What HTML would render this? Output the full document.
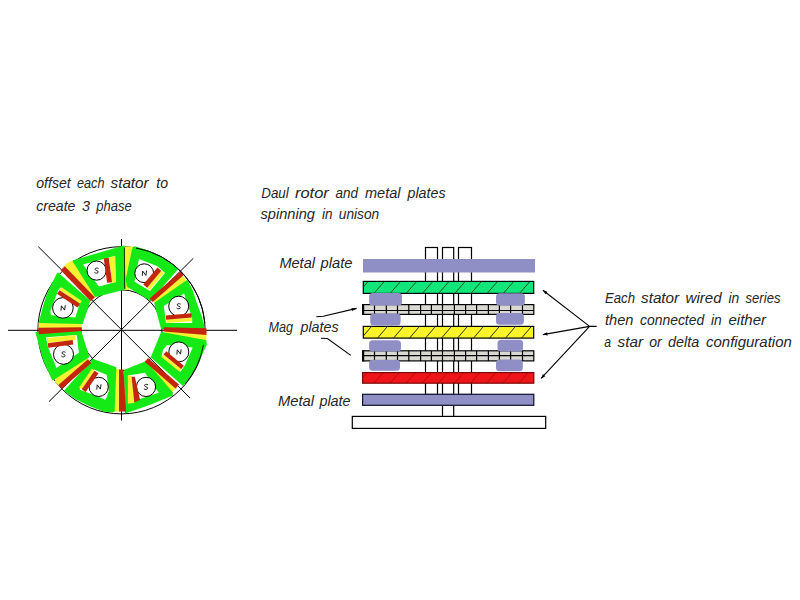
<!DOCTYPE html>
<html><head><meta charset="utf-8"><title>Dual rotor diagram</title>
<style>
html,body{margin:0;padding:0;background:#fff;}
body{width:800px;height:600px;overflow:hidden;font-family:"Liberation Sans",sans-serif;}
svg{display:block;font-family:"Liberation Sans",sans-serif;}
</style></head><body>
<svg width="800" height="600" viewBox="0 0 800 600">
<defs><filter id="soft" x="0" y="0" width="260" height="440" filterUnits="userSpaceOnUse"><feGaussianBlur stdDeviation="0.4"/></filter></defs>
<rect width="800" height="600" fill="#fff"/>
<line x1="8.0" y1="330.3" x2="237.0" y2="330.3" stroke="#000" stroke-width="1" stroke-linecap="butt"/>
<line x1="121.5" y1="239.0" x2="121.5" y2="420.5" stroke="#000" stroke-width="1" stroke-linecap="butt"/>
<line x1="38.3" y1="246.7" x2="190.0" y2="398.0" stroke="#000" stroke-width="1" stroke-linecap="butt"/>
<line x1="193.3" y1="258.3" x2="49.0" y2="401.6" stroke="#000" stroke-width="1" stroke-linecap="butt"/>
<circle cx="121.5" cy="330.3" r="83.6" fill="none" stroke="#000" stroke-width="1"/>
<circle cx="121.5" cy="330.3" r="40.5" fill="none" stroke="#000" stroke-width="1"/>
<g filter="url(#soft)">
<polygon points="165.0,331.0 206.3,333.0 206.3,341.0 165.0,335.0" fill="#f6f232"/>
<polygon points="151.7,299.2 180.4,273.2 186.4,279.9 157.7,305.9" fill="#f6f232"/>
<polygon points="124.0,246.5 133.0,246.5 129.0,290.0 124.0,290.0" fill="#f6f232"/>
<polygon points="63.5,267.5 93.2,299.0 97.5,295.0 72.0,260.5 66.5,263.5" fill="#f6f232"/>
<polygon points="39.8,321.0 82.0,322.5 82.0,328.5 38.6,328.5 38.6,322.5" fill="#f6f232"/>
<polygon points="59.5,386.5 89.0,360.5 86.0,356.0 56.0,378.0 54.8,381.8" fill="#f6f232"/>
<polygon points="114.0,369.0 120.0,369.5 120.0,411.8 113.0,411.8" fill="#f6f232"/>
<polygon points="146.0,360.3 176.9,386.9 171.7,393.0 140.8,366.3" fill="#f6f232"/>
<polygon points="155.0,303.2 187.0,280.8 192.0,290.5 195.9,302.7 200.5,315.0 203.3,325.0 203.5,328.5 161.7,328.3" fill="#14ea14" stroke="#14ea14" stroke-width="1.6" stroke-linejoin="round"/>
<polygon points="163.9,305.9 184.1,293.6 192.1,318.1 192.3,322.9 166.0,322.9" fill="#fff"/>
<polygon points="134.5,247.1 145.0,250.3 156.0,255.0 167.0,261.5 177.5,268.6 150.3,299.8 127.7,286.2 126.5,279.4 132.8,249.4" fill="#14ea14" stroke="#14ea14" stroke-width="1.6" stroke-linejoin="round"/>
<polygon points="139.0,259.0 157.5,266.3 165.0,273.0 150.0,291.0 134.5,281.7" fill="#fff"/>
<polygon points="73.4,261.0 123.8,246.2 124.9,288.7 95.6,296.2" fill="#14ea14" stroke="#14ea14" stroke-width="1.6" stroke-linejoin="round"/>
<polygon points="83.0,264.4 114.7,255.9 115.9,281.9 98.9,286.5" fill="#fff"/>
<polygon points="57.8,273.3 89.5,301.1 82.1,323.2 39.6,322.1 43.6,307.3 47.0,296.0 51.0,286.9" fill="#14ea14" stroke="#14ea14" stroke-width="1.6" stroke-linejoin="round"/>
<polygon points="60.6,287.5 78.7,306.8 75.3,317.5 51.0,315.3 50.4,310.7 58.3,290.3" fill="#fff"/>
<polygon points="36.3,332.8 80.6,331.5 88.5,356.9 52.7,379.5 43.8,359.8" fill="#14ea14" stroke="#14ea14" stroke-width="1.6" stroke-linejoin="round"/>
<polygon points="45.9,337.3 76.8,335.0 78.9,352.7 56.5,368.1 48.0,347.3" fill="#fff"/>
<polygon points="92.8,359.7 115.6,367.8 113.8,411.5 104.5,411.0 90.0,405.5 76.0,398.5 65.0,390.7" fill="#14ea14" stroke="#14ea14" stroke-width="1.6" stroke-linejoin="round"/>
<polygon points="94.0,369.5 106.7,374.7 108.8,391.2 105.6,399.7 79.5,389.5" fill="#fff"/>
<polygon points="124.7,370.4 146.0,361.9 172.1,392.8 172.0,395.0 150.0,404.0 125.7,412.5" fill="#14ea14" stroke="#14ea14" stroke-width="1.6" stroke-linejoin="round"/>
<polygon points="127.9,375.5 145.0,372.8 158.8,392.8 140.7,398.7 128.2,403.5" fill="#fff"/>
<polygon points="161.7,332.7 205.5,340.7 206.0,344.4 200.0,357.5 192.7,372.1 183.0,385.0 151.6,357.2" fill="#14ea14" stroke="#14ea14" stroke-width="1.6" stroke-linejoin="round"/>
<polygon points="167.0,345.0 192.7,347.6 185.2,364.7 180.5,371.8 161.5,356.5 163.0,350.0" fill="#fff"/>
<line x1="124.4" y1="247.5" x2="124.6" y2="289.0" stroke="#143a00" stroke-width="1" stroke-linecap="butt"/>
<polygon points="163.5,327.3 206.5,328.2 206.5,335.0 163.5,331.6" fill="#c4260e"/>
<line x1="151.2" y1="300.3" x2="182.2" y2="273.2" stroke="#c4260e" stroke-width="4.8" stroke-linecap="butt"/>
<line x1="62.7" y1="268.3" x2="92.8" y2="299.3" stroke="#c4260e" stroke-width="5.6" stroke-linecap="butt"/>
<polygon points="38.3,327.8 81.7,327.2 81.7,331.1 38.8,334.3" fill="#c4260e"/>
<line x1="60.0" y1="387.0" x2="89.6" y2="361.2" stroke="#c4260e" stroke-width="5" stroke-linecap="butt"/>
<polygon points="119.0,369.5 123.5,369.5 126.0,411.5 119.0,411.5" fill="#c4260e"/>
<line x1="146.4" y1="359.9" x2="177.3" y2="386.5" stroke="#c4260e" stroke-width="5.2" stroke-linecap="butt"/>
</g>
<path d="M136.0 248.0A83.6 83.6 0 0 1 204.8 323.0" fill="none" stroke="#000" stroke-width="1" opacity="1"/>
<path d="M203.5 344.8A83.3 83.3 0 0 1 185.3 383.8" fill="none" stroke="#000" stroke-width="1" opacity="0.85"/>
<circle cx="178.7" cy="306.2" r="10" fill="#fff" stroke="#000" stroke-width="1"/>
<path d="M180.4 304.0C179.3 303.2 177.0 303.5 177.2 305.0C177.4 306.4 180.3 305.9 180.3 307.5C180.3 309.1 177.7 309.2 176.8 308.2" fill="none" stroke="#111" stroke-width="0.95" stroke-linecap="round"/>
<circle cx="144.2" cy="273.2" r="9.4" fill="#fff" stroke="#000" stroke-width="1"/>
<path d="M142.3 275.5L142.7 271.1L145.9 275.4L146.5 270.9" fill="none" stroke="#111" stroke-width="0.95" stroke-linejoin="round" stroke-linecap="round"/>
<circle cx="96.6" cy="270.6" r="9.6" fill="#fff" stroke="#000" stroke-width="1"/>
<path d="M98.3 268.4C97.2 267.6 94.9 267.9 95.1 269.4C95.3 270.8 98.2 270.3 98.2 271.9C98.2 273.5 95.6 273.6 94.7 272.6" fill="none" stroke="#111" stroke-width="0.95" stroke-linecap="round"/>
<circle cx="62.9" cy="307.9" r="10.3" fill="#fff" stroke="#000" stroke-width="1"/>
<path d="M61.0 310.2L61.4 305.8L64.6 310.1L65.2 305.6" fill="none" stroke="#111" stroke-width="0.95" stroke-linejoin="round" stroke-linecap="round"/>
<circle cx="63.5" cy="354.3" r="10" fill="#fff" stroke="#000" stroke-width="1"/>
<path d="M65.2 352.1C64.1 351.3 61.8 351.6 62.0 353.1C62.2 354.5 65.1 354.0 65.1 355.6C65.1 357.2 62.5 357.3 61.6 356.3" fill="none" stroke="#111" stroke-width="0.95" stroke-linecap="round"/>
<circle cx="98.7" cy="386.9" r="9.6" fill="#fff" stroke="#000" stroke-width="1"/>
<path d="M96.8 389.2L97.2 384.8L100.4 389.1L101.0 384.6" fill="none" stroke="#111" stroke-width="0.95" stroke-linejoin="round" stroke-linecap="round"/>
<circle cx="146" cy="386.9" r="9.6" fill="#fff" stroke="#000" stroke-width="1"/>
<path d="M147.7 384.7C146.6 383.9 144.3 384.2 144.5 385.7C144.7 387.1 147.6 386.6 147.6 388.2C147.6 389.8 145.0 389.9 144.1 388.9" fill="none" stroke="#111" stroke-width="0.95" stroke-linecap="round"/>
<circle cx="178.8" cy="351.9" r="10" fill="#fff" stroke="#000" stroke-width="1"/>
<path d="M176.9 354.2L177.3 349.8L180.5 354.1L181.1 349.6" fill="none" stroke="#111" stroke-width="0.95" stroke-linejoin="round" stroke-linecap="round"/>
<g filter="url(#soft)">
<line x1="166.5" y1="321.2" x2="192.0" y2="319.5" stroke="#f6f232" stroke-width="3.6" stroke-linecap="butt"/>
<line x1="166.0" y1="317.6" x2="191.6" y2="315.3" stroke="#c4260e" stroke-width="4.2" stroke-linecap="butt"/>
<line x1="148.4" y1="288.9" x2="162.6" y2="271.9" stroke="#f6f232" stroke-width="3.4" stroke-linecap="butt"/>
<line x1="145.2" y1="286.2" x2="159.4" y2="269.2" stroke="#c4260e" stroke-width="5" stroke-linecap="butt"/>
<polygon points="109.0,257.5 115.3,256.0 116.0,282.0 112.0,283.0" fill="#f6f232"/>
<line x1="106.2" y1="258.1" x2="109.6" y2="282.5" stroke="#c4260e" stroke-width="5" stroke-linecap="butt"/>
<line x1="60.5" y1="288.7" x2="80.9" y2="302.3" stroke="#f6f232" stroke-width="3.4" stroke-linecap="butt"/>
<line x1="58.3" y1="292.0" x2="78.7" y2="305.6" stroke="#c4260e" stroke-width="4.5" stroke-linecap="butt"/>
<line x1="47.0" y1="340.4" x2="75.5" y2="337.6" stroke="#f6f232" stroke-width="5" stroke-linecap="butt"/>
<line x1="48.0" y1="345.5" x2="73.0" y2="342.3" stroke="#c4260e" stroke-width="4.5" stroke-linecap="butt"/>
<line x1="93.2" y1="369.7" x2="80.4" y2="388.4" stroke="#f6f232" stroke-width="3.2" stroke-linecap="butt"/>
<line x1="96.5" y1="372.0" x2="83.7" y2="390.7" stroke="#c4260e" stroke-width="4.8" stroke-linecap="butt"/>
<polygon points="127.9,375.2 131.8,376.0 134.5,403.0 127.9,403.5" fill="#f6f232"/>
<polygon points="131.6,376.8 134.8,376.8 140.1,400.0 134.3,402.5" fill="#c4260e"/>
<line x1="162.6" y1="355.8" x2="180.2" y2="370.2" stroke="#f6f232" stroke-width="3.2" stroke-linecap="butt"/>
<line x1="164.9" y1="352.9" x2="182.5" y2="367.3" stroke="#c4260e" stroke-width="4.2" stroke-linecap="butt"/>
</g>
<rect x="425.5" y="247.5" width="12.0" height="147" fill="#fff" stroke="#000" stroke-width="1.2"/>
<rect x="442.5" y="247.5" width="11.199999999999989" height="147" fill="#fff" stroke="#000" stroke-width="1.2"/>
<rect x="458.5" y="247.5" width="13.0" height="147" fill="#fff" stroke="#000" stroke-width="1.2"/>
<rect x="442.5" y="405" width="11.2" height="12" fill="#fff" stroke="#000" stroke-width="1.2"/>
<rect x="352.3" y="416.4" width="193.4" height="12" fill="#fff" stroke="#000" stroke-width="1.2"/>
<rect x="363" y="259" width="172" height="13.5" fill="#8f8fc6"/>
<rect x="363.3" y="281.4" width="170.4" height="12" fill="#12e57a" stroke="#000" stroke-width="1.2"/>
<path d="M363.3 287.0L368.2 281.4M373.9 293.4L384.4 281.4M390.1 293.4L400.6 281.4M406.2 293.4L416.7 281.4M422.4 293.4L432.9 281.4M438.6 293.4L449.1 281.4M454.8 293.4L465.3 281.4M471.0 293.4L481.5 281.4M487.1 293.4L497.6 281.4M503.3 293.4L513.8 281.4M519.5 293.4L530.0 281.4" stroke="#003a10" stroke-width="1" fill="none" opacity="0.85"/>
<rect x="363.3" y="326.4" width="170.4" height="11.7" fill="#f8f428" stroke="#000" stroke-width="1.2"/>
<path d="M363.3 336.0L371.5 326.4M377.5 338.1L387.5 326.4M393.5 338.1L403.5 326.4M409.5 338.1L419.5 326.4M425.5 338.1L435.5 326.4M441.5 338.1L451.5 326.4M457.5 338.1L467.5 326.4M473.5 338.1L483.5 326.4M489.5 338.1L499.5 326.4M505.5 338.1L515.5 326.4M521.5 338.1L531.5 326.4" stroke="#1a1a00" stroke-width="1" fill="none" opacity="0.9"/>
<rect x="362.6" y="372.6" width="171.2" height="10.6" fill="#ee1418" stroke="#7a0a0a" stroke-width="1.2"/>
<path d="M362.6 377.7L367.2 372.6M373.8 383.2L383.3 372.6M389.9 383.2L399.4 372.6M406.0 383.2L415.5 372.6M422.1 383.2L431.6 372.6M438.2 383.2L447.7 372.6M454.3 383.2L463.8 372.6M470.4 383.2L479.9 372.6M486.5 383.2L496.0 372.6M502.6 383.2L512.1 372.6M518.7 383.2L528.2 372.6" stroke="#6a0808" stroke-width="1" fill="none" opacity="0.45"/>
<rect x="362.6" y="304.6" width="171.2" height="9.8" fill="#d9d9d2" stroke="#000" stroke-width="1.2"/>
<line x1="362.6" y1="310.5" x2="533.8" y2="310.5" stroke="#000" stroke-width="1.2"/>
<path d="M374.5 304.6V314.40000000000003M386.3 304.6V314.40000000000003M397.5 304.6V314.40000000000003M408.8 304.6V314.40000000000003M420.6 304.6V314.40000000000003M431.4 304.6V314.40000000000003M442.5 304.6V314.40000000000003M454.4 304.6V314.40000000000003M465.6 304.6V314.40000000000003M476.6 304.6V314.40000000000003M488.4 304.6V314.40000000000003M499.4 304.6V314.40000000000003M510.6 304.6V314.40000000000003M522.5 304.6V314.40000000000003" stroke="#000" stroke-width="1.2" fill="none"/>
<line x1="363.1" y1="304.1" x2="363.1" y2="314.90000000000003" stroke="#000" stroke-width="2.2"/>
<rect x="362.6" y="350.8" width="171.2" height="10.1" fill="#d9d9d2" stroke="#000" stroke-width="1.2"/>
<line x1="362.6" y1="355.6" x2="533.8" y2="355.6" stroke="#000" stroke-width="1.2"/>
<path d="M374.5 350.8V360.90000000000003M386.3 350.8V360.90000000000003M397.5 350.8V360.90000000000003M408.8 350.8V360.90000000000003M420.6 350.8V360.90000000000003M431.4 350.8V360.90000000000003M442.5 350.8V360.90000000000003M454.4 350.8V360.90000000000003M465.6 350.8V360.90000000000003M476.6 350.8V360.90000000000003M488.4 350.8V360.90000000000003M499.4 350.8V360.90000000000003M510.6 350.8V360.90000000000003M522.5 350.8V360.90000000000003" stroke="#000" stroke-width="1.2" fill="none"/>
<line x1="363.1" y1="350.3" x2="363.1" y2="361.40000000000003" stroke="#000" stroke-width="2.2"/>
<rect x="369.1" y="293.0" width="32.9" height="12.6" rx="3.5" fill="#8f8fc6"/>
<rect x="496" y="293.2" width="28.9" height="12.4" rx="3.5" fill="#8f8fc6"/>
<rect x="370.2" y="313.4" width="30.4" height="12.2" rx="3.5" fill="#8f8fc6"/>
<rect x="496" y="313.0" width="27.9" height="11.7" rx="3.5" fill="#8f8fc6"/>
<rect x="369.1" y="340.2" width="31.9" height="11.2" rx="3.5" fill="#8f8fc6"/>
<rect x="497.5" y="339.8" width="25.6" height="11.6" rx="3.5" fill="#8f8fc6"/>
<rect x="369.1" y="359.7" width="30.9" height="11.1" rx="3.5" fill="#8f8fc6"/>
<rect x="496" y="359.5" width="26.8" height="11.7" rx="3.5" fill="#8f8fc6"/>
<rect x="362.6" y="394.3" width="171.2" height="11" fill="#8f8fc6" stroke="#101030" stroke-width="1.2"/>
<path d="M316.3 316.7L323.3 316.3L356.6 308.4M321 338.2L327.4 338.5L350.8 355.4" stroke="#000" stroke-width="1.1" fill="none"/>
<polygon points="356.6,308.4 351.4,308.1 352.1,311.0" fill="#000"/>
<path d="M589.6 326.4L542.9 290.2M589.6 326.4L542.9 334.6M589.6 326.4L541.1 378.4M589.6 326.4H596.6" stroke="#000" stroke-width="1.1" fill="none"/>
<polygon points="542.9,290.2 545.5,294.2 547.4,291.7" fill="#000"/>
<polygon points="542.9,334.6 547.6,335.4 547.1,332.2" fill="#000"/>
<polygon points="541.1,378.4 545.3,376.2 543.0,374.0" fill="#000"/>
<text x="36.25" y="188" font-size="14" font-style="italic" textLength="34.5" lengthAdjust="spacingAndGlyphs" fill="#262626">offset</text>
<text x="77" y="188" font-size="14" font-style="italic" textLength="27.5" lengthAdjust="spacingAndGlyphs" fill="#262626">each</text>
<text x="110.5" y="188" font-size="14" font-style="italic" textLength="38.2" lengthAdjust="spacingAndGlyphs" fill="#262626">stator</text>
<text x="156.25" y="188" font-size="14" font-style="italic" textLength="11.8" lengthAdjust="spacingAndGlyphs" fill="#262626">to</text>
<text x="36.25" y="210.5" font-size="14" font-style="italic" textLength="39.2" lengthAdjust="spacingAndGlyphs" fill="#262626">create</text>
<text x="82" y="210.5" font-size="14" font-style="italic" textLength="8.0" lengthAdjust="spacingAndGlyphs" fill="#262626">3</text>
<text x="96.25" y="210.5" font-size="14" font-style="italic" textLength="35.5" lengthAdjust="spacingAndGlyphs" fill="#262626">phase</text>
<text x="261.25" y="197.5" font-size="14" font-style="italic" textLength="27.5" lengthAdjust="spacingAndGlyphs" fill="#262626">Daul</text>
<text x="295" y="197.5" font-size="14" font-style="italic" textLength="33.8" lengthAdjust="spacingAndGlyphs" fill="#262626">rotor</text>
<text x="335.5" y="197.5" font-size="14" font-style="italic" textLength="22.5" lengthAdjust="spacingAndGlyphs" fill="#262626">and</text>
<text x="365" y="197.5" font-size="14" font-style="italic" textLength="35.5" lengthAdjust="spacingAndGlyphs" fill="#262626">metal</text>
<text x="407.5" y="197.5" font-size="14" font-style="italic" textLength="38.0" lengthAdjust="spacingAndGlyphs" fill="#262626">plates</text>
<text x="260.5" y="218.5" font-size="14" font-style="italic" textLength="54.5" lengthAdjust="spacingAndGlyphs" fill="#262626">spinning</text>
<text x="322" y="218.5" font-size="14" font-style="italic" textLength="10.5" lengthAdjust="spacingAndGlyphs" fill="#262626">in</text>
<text x="338.75" y="218.5" font-size="14" font-style="italic" textLength="40.5" lengthAdjust="spacingAndGlyphs" fill="#262626">unison</text>
<text x="279.4" y="267.7" font-size="14" font-style="italic" textLength="35.6" lengthAdjust="spacingAndGlyphs" fill="#262626">Metal</text>
<text x="320.6" y="267.7" font-size="14" font-style="italic" textLength="31.9" lengthAdjust="spacingAndGlyphs" fill="#262626">plate</text>
<text x="268.4" y="331.5" font-size="14" font-style="italic" textLength="24.6" lengthAdjust="spacingAndGlyphs" fill="#262626">Mag</text>
<text x="300.5" y="331.5" font-size="14" font-style="italic" textLength="38.1" lengthAdjust="spacingAndGlyphs" fill="#262626">plates</text>
<text x="278" y="406.3" font-size="14" font-style="italic" textLength="36.0" lengthAdjust="spacingAndGlyphs" fill="#262626">Metal</text>
<text x="319.4" y="406.3" font-size="14" font-style="italic" textLength="31.2" lengthAdjust="spacingAndGlyphs" fill="#262626">plate</text>
<text x="605" y="302.75" font-size="14" font-style="italic" textLength="30.0" lengthAdjust="spacingAndGlyphs" fill="#262626">Each</text>
<text x="641" y="302.75" font-size="14" font-style="italic" textLength="38.2" lengthAdjust="spacingAndGlyphs" fill="#262626">stator</text>
<text x="685.5" y="302.75" font-size="14" font-style="italic" textLength="36.2" lengthAdjust="spacingAndGlyphs" fill="#262626">wired</text>
<text x="728.5" y="302.75" font-size="14" font-style="italic" textLength="10.8" lengthAdjust="spacingAndGlyphs" fill="#262626">in</text>
<text x="745.5" y="302.75" font-size="14" font-style="italic" textLength="35.0" lengthAdjust="spacingAndGlyphs" fill="#262626">series</text>
<text x="605" y="324.75" font-size="14" font-style="italic" textLength="28.5" lengthAdjust="spacingAndGlyphs" fill="#262626">then</text>
<text x="640" y="324.75" font-size="14" font-style="italic" textLength="64.2" lengthAdjust="spacingAndGlyphs" fill="#262626">connected</text>
<text x="711" y="324.75" font-size="14" font-style="italic" textLength="10.8" lengthAdjust="spacingAndGlyphs" fill="#262626">in</text>
<text x="728.5" y="324.75" font-size="14" font-style="italic" textLength="37.5" lengthAdjust="spacingAndGlyphs" fill="#262626">either</text>
<text x="604.25" y="347" font-size="14" font-style="italic" textLength="6.8" lengthAdjust="spacingAndGlyphs" fill="#262626">a</text>
<text x="617.5" y="347" font-size="14" font-style="italic" textLength="25.5" lengthAdjust="spacingAndGlyphs" fill="#262626">star</text>
<text x="649.25" y="347" font-size="14" font-style="italic" textLength="12.5" lengthAdjust="spacingAndGlyphs" fill="#262626">or</text>
<text x="668" y="347" font-size="14" font-style="italic" textLength="31.2" lengthAdjust="spacingAndGlyphs" fill="#262626">delta</text>
<text x="706" y="347" font-size="14" font-style="italic" textLength="85.8" lengthAdjust="spacingAndGlyphs" fill="#262626">configuration</text>
</svg>
</body></html>
